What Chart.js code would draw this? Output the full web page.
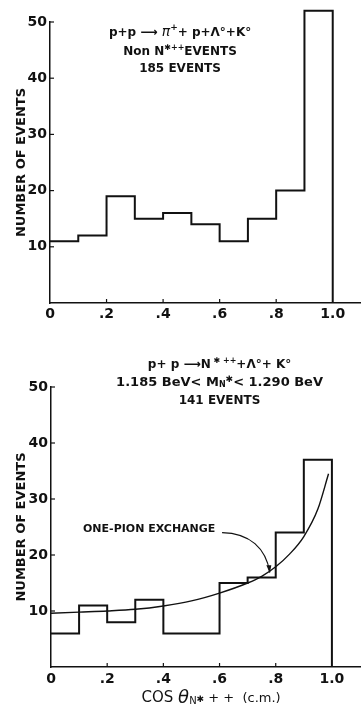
<!DOCTYPE html>
<html>
<head>
<meta charset="utf-8">
<script src="https://cdn.jsdelivr.net/npm/chart.js@4.4.0/dist/chart.umd.min.js"></script>
<style>
  body { margin: 0; background: #fff; }
  #wrap { position: relative; width: 361px; height: 706px; }
  canvas { position: absolute; left: 0; }
</style>
</head>
<body>
<div id="wrap">
  <canvas id="topChart" width="361" height="340" style="top:0"></canvas>
  <canvas id="bottomChart" width="361" height="366" style="top:340px"></canvas>
</div>
<script>
// bin edges of cos(theta), 10 bins of 0.1
const binEdges = [0, 0.1, 0.2, 0.3, 0.4, 0.5, 0.6, 0.7, 0.8, 0.9, 1.0];
// upper plot: non N*++ events (185)
const nonNstarCounts = [11, 12, 19, 15, 16, 14, 11, 15, 20, 52];
// lower plot: N*++ events (141)
const nstarCounts = [6, 11, 8, 12, 6, 6, 15, 16, 24, 37];
// one-pion exchange curve
const opeX = [0, 0.1, 0.2, 0.3, 0.4, 0.5, 0.6, 0.7, 0.75, 0.8, 0.85, 0.9, 0.95, 0.988];
const opeY = [9.6, 9.8, 10.0, 10.3, 10.9, 11.8, 13.2, 15.0, 16.2, 17.9, 20.2, 23.3, 28.2, 34.5];

const yTicks = [10, 20, 30, 40, 50];
const xTicks = [0, 0.2, 0.4, 0.6, 0.8, 1.0];
const xTickLabels = ["0", ".2", ".4", ".6", ".8", "1.0"];

const FONT = "DejaVu Sans";
const INK = "#111";

// histogram outline: both corners of every bin, then down to the axis
function histPoints(counts) {
  const pts = [];
  counts.forEach((c, i) => {
    pts.push({ x: binEdges[i], y: c });
    pts.push({ x: binEdges[i + 1], y: c });
  });
  pts.push({ x: binEdges[binEdges.length - 1], y: 0 });
  return pts;
}

// draws a line made of pieces [text, size, dy, style]
function drawRich(ctx, segs, x, y, align) {
  let total = 0;
  segs.forEach(s => {
    ctx.font = `${s[3] || "bold"} ${s[1]}px "${FONT}"`;
    total += ctx.measureText(s[0]).width;
  });
  let cx = align === "left" ? x : x - total / 2;
  ctx.textBaseline = "middle";
  ctx.textAlign = "left";
  segs.forEach(s => {
    ctx.font = `${s[3] || "bold"} ${s[1]}px "${FONT}"`;
    ctx.fillText(s[0], cx, y + (s[2] || 0));
    cx += ctx.measureText(s[0]).width;
  });
}

const paperPlugin = {
  id: "paper",
  afterDraw(chart, args, o) {
    const ctx = chart.ctx;
    const xs = chart.scales.x, ys = chart.scales.y;
    ctx.save();
    ctx.strokeStyle = INK;
    ctx.fillStyle = INK;
    ctx.lineWidth = 1.2;
    // small ticks pointing into the plot
    yTicks.forEach(v => {
      const py = ys.getPixelForValue(v);
      ctx.beginPath(); ctx.moveTo(xs.left, py); ctx.lineTo(xs.left + 4, py); ctx.stroke();
    });
    xTicks.slice(1, -1).forEach(v => {
      const px = xs.getPixelForValue(v);
      ctx.beginPath(); ctx.moveTo(px, ys.bottom); ctx.lineTo(px, ys.bottom - 4); ctx.stroke();
    });
    (o.notes || []).forEach(n => {
      drawRich(ctx, n.segs, xs.getPixelForValue(n.x), ys.getPixelForValue(n.y), n.align);
    });
    if (o.caption) {
      drawRich(ctx, o.caption.segs, xs.getPixelForValue(o.caption.x), xs.top + o.caption.down);
    }
    if (o.arrow) {
      const p = o.arrow.map(a => [xs.getPixelForValue(a[0]), ys.getPixelForValue(a[1])]);
      ctx.lineWidth = 1.2;
      ctx.beginPath();
      ctx.moveTo(p[0][0], p[0][1]);
      ctx.bezierCurveTo(p[1][0], p[1][1], p[2][0], p[2][1], p[3][0], p[3][1]);
      ctx.stroke();
      const [ex, ey] = p[3];
      ctx.beginPath();
      ctx.moveTo(ex, ey + 1);
      ctx.lineTo(ex - 3.5, ey - 7);
      ctx.lineTo(ex + 1.5, ey - 7);
      ctx.closePath();
      ctx.fill();
    }
    ctx.restore();
  }
};

function makeChart(id, counts, cfg) {
  const datasets = [{
    data: histPoints(counts),
    borderColor: INK,
    borderWidth: 2,
    pointRadius: 0,
    tension: 0,
    clip: false
  }];
  if (cfg.curve) {
    datasets.push({
      data: opeX.map((x, i) => ({ x: x, y: opeY[i] })),
      borderColor: INK,
      borderWidth: 1.4,
      pointRadius: 0,
      cubicInterpolationMode: "monotone",
      clip: false
    });
  }
  return new Chart(document.getElementById(id), {
    type: "line",
    data: { datasets: datasets },
    plugins: [paperPlugin],
    options: {
      responsive: false,
      animation: false,
      layout: { padding: cfg.padding },
      plugins: {
        legend: { display: false },
        tooltip: { enabled: false },
        paper: cfg.paper
      },
      scales: {
        x: {
          type: "linear",
          min: 0,
          max: 1.1,
          afterBuildTicks: s => { s.ticks = xTicks.map(v => ({ value: v })); },
          afterFit: s => { s.height = cfg.xHeight; },
          grid: { display: false, drawTicks: false },
          border: { display: true, color: INK, width: 1.5 },
          ticks: {
            color: INK,
            autoSkip: false,
            maxRotation: 0,
            padding: cfg.xPad,
            font: { family: FONT, size: 14, weight: "bold" },
            callback: (v, i) => xTickLabels[i]
          }
        },
        y: {
          type: "linear",
          min: 0,
          max: 50,
          afterBuildTicks: s => { s.ticks = yTicks.map(v => ({ value: v })); },
          afterFit: s => { s.width = cfg.yWidth; },
          grid: { display: false, drawTicks: false },
          border: { display: true, color: INK, width: 1.5 },
          ticks: {
            color: INK,
            padding: 3,
            font: { family: FONT, size: 14, weight: "bold" }
          },
          title: {
            display: true,
            text: "NUMBER OF EVENTS",
            color: INK,
            font: { family: FONT, size: 13, weight: "bold" },
            padding: { top: 14, bottom: 0 }
          }
        }
      }
    }
  });
}

makeChart("topChart", nonNstarCounts, {
  padding: { top: 22, right: 0, left: 0, bottom: 0 },
  xHeight: 37,
  yWidth: 50,
  xPad: 3,
  paper: {
    notes: [
      { x: 0.46, y: 48.1, segs: [["p+p", 12], [" ⟶ ", 12], ["π", 14, 0, "italic"], ["+", 9, -5], ["+ p+Λ°+K°", 12]] },
      { x: 0.46, y: 44.6, segs: [["Non N", 12], ["✱++", 8, -4], ["EVENTS", 12]] },
      { x: 0.46, y: 41.7, segs: [["185 EVENTS", 12]] }
    ]
  }
});

makeChart("bottomChart", nstarCounts, {
  curve: true,
  padding: { top: 47, right: 1, left: 0, bottom: 0 },
  xHeight: 39,
  yWidth: 51,
  xPad: 4,
  paper: {
    notes: [
      { x: 0.6, y: 53.9, segs: [["p+ p", 12], [" ⟶", 12], ["N", 12], [" ✱ ++", 8, -4], ["+Λ°+ K°", 12]] },
      { x: 0.6, y: 50.7, segs: [["1.185 BeV< M", 13], ["N", 8, 2], ["✱", 9, -3], ["< 1.290 BeV", 13]] },
      { x: 0.6, y: 47.6, segs: [["141 EVENTS", 12]] },
      { x: 0.114, y: 24.6, align: "left", segs: [["ONE-PION EXCHANGE", 11]] }
    ],
    caption: { x: 0.57, down: 31, segs: [["COS ", 15, 0, "normal"], ["θ", 18, 0, "italic"], ["N", 10, 3, "normal"], ["✱", 9, 2, "normal"], [" + +  (c.m.)", 13, 1, "normal"]] },
    arrow: [[0.609, 24.0], [0.708, 23.9], [0.765, 21.2], [0.779, 16.9]]
  }
});
</script>
</body>
</html>
